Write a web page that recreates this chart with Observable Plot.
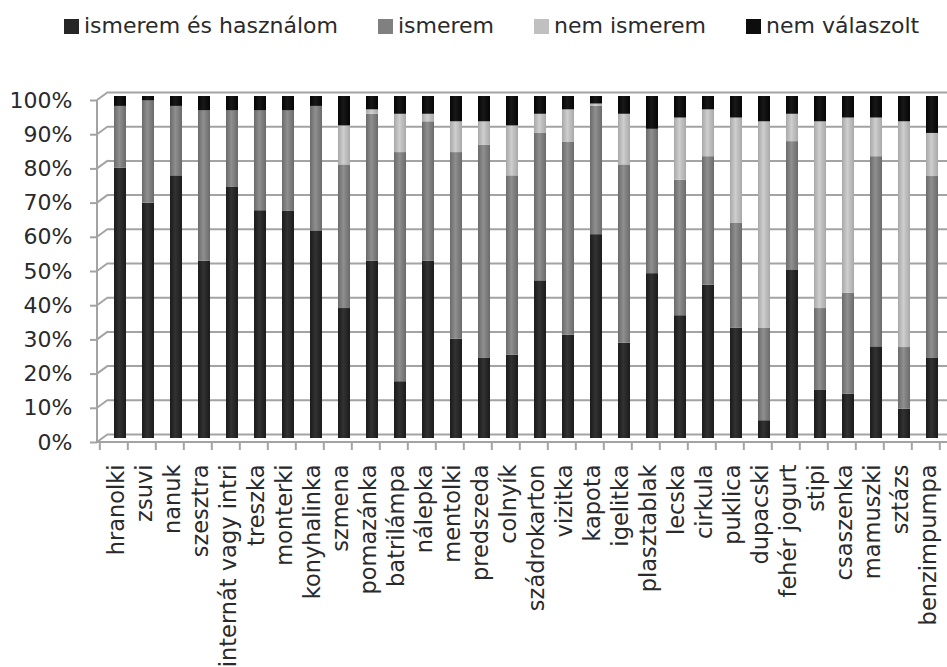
<!DOCTYPE html>
<html>
<head>
<meta charset="utf-8">
<script src="https://cdn.jsdelivr.net/npm/d3@7"></script>
<script src="https://cdn.jsdelivr.net/npm/@observablehq/plot@0.6"></script>
<style>
  body { margin: 0; background: #fff; font-family: "DejaVu Sans", sans-serif; color: #2a2a2a; }
  #wrap { position: relative; width: 947px; height: 667px; overflow: hidden; background: #fff; }
  #legend { position: absolute; left: 64px; top: 13px; display: flex; gap: 40px; font-size: 22px; line-height: 26px; white-space: nowrap; }
  .item { display: flex; align-items: center; }
  .sw { width: 15px; height: 15px; margin-right: 5px; }
  #chart { position: absolute; left: 0; top: 50px; }
</style>
</head>
<body>
<div id="wrap"><div id="legend"></div><div id="chart"></div></div>
<script>
const categories = ["hranolki","zsuvi","nanuk","szesztra","internát vagy intri","treszka","monterki","konyhalinka","szmena","pomazánka","batrilámpa","nálepka","mentolki","predszeda","colnyík","szádrokarton","vizitka","kapota","igelitka","plasztablak","lecska","cirkula","puklica","dupacski","fehér jogurt","stipi","csaszenka","mamuszki","sztázs","benzimpumpa"];
const seriesNames = ["ismerem és használom","ismerem","nem ismerem","nem válaszolt"];
const seriesColors = ["#262626","#808080","#c0c0c0","#0d0d0d"];
const ismeremEsHasznalom = [79.0,68.8,76.8,51.8,73.4,66.6,66.4,60.7,38.0,51.8,16.6,51.8,29.0,23.4,24.4,46.1,30.2,59.6,27.9,48.2,35.9,44.8,32.3,5.2,49.3,14.2,13.0,26.8,8.6,23.4];
const ismerem = [18.1,29.9,20.3,44.0,22.4,29.2,29.4,36.4,42.0,43.0,67.0,40.8,54.6,62.4,52.4,43.1,56.5,37.5,52.1,42.2,39.6,37.6,30.7,27.1,37.5,23.8,29.5,55.6,18.0,53.2];
const nemIsmerem = [0,0,0,0,0,0,0,0,11.4,1.3,11.2,2.2,9.0,6.8,14.6,5.6,9.4,0.7,14.8,0,18.2,13.7,30.7,60.3,8.0,54.6,51.2,11.3,66.0,12.6];
const nemValaszolt = [2.9,1.3,2.9,4.2,4.2,4.2,4.2,2.9,8.6,3.9,5.2,5.2,7.4,7.4,8.6,5.2,3.9,2.2,5.2,9.6,6.3,3.9,6.3,7.4,5.2,7.4,6.3,6.3,7.4,10.8];
const yTicks = [0,10,20,30,40,50,60,70,80,90,100];
const yTickLabels = ["0%","10%","20%","30%","40%","50%","60%","70%","80%","90%","100%"];

const seriesValues = [ismeremEsHasznalom, ismerem, nemIsmerem, nemValaszolt];
const rows = [];
categories.forEach((c, i) => {
  seriesNames.forEach((s, j) => rows.push({category: c, series: s, value: seriesValues[j][i]}));
});

// legend
const legend = document.getElementById("legend");
seriesNames.forEach((s, i) => {
  const it = document.createElement("div");
  it.className = "item";
  it.innerHTML = `<span class="sw" style="background:${seriesColors[i]}"></span><span>${s}</span>`;
  legend.appendChild(it);
});

const gridColor = "#a3a3a3";
const frontDy = 4, backDy = -4, backDx = 11;
const padInner = 0.585;

function frame(index, scales, values, dims) {
  const {x, y} = scales;
  const g = d3.create("svg:g").attr("fill", "none").attr("stroke", gridColor).attr("stroke-width", 2);
  const step = x(categories[1]) - x(categories[0]);
  const bw = step * (1 - padInner);
  const left = dims.marginLeft;
  const right = dims.width;
  const y0 = y(0) + frontDy;
  g.append("line").attr("x1", left).attr("x2", left).attr("y1", y(100) + frontDy).attr("y2", y0);
  g.append("line").attr("x1", left).attr("x2", right).attr("y1", y0).attr("y2", y0);
  for (const v of yTicks) {
    g.append("line").attr("x1", left).attr("y1", y(v) + frontDy).attr("x2", left + backDx).attr("y2", y(v) + backDy);
  }
  const xs = categories.map(c => x(c) + bw / 2 - step / 2);
  xs.push(x(categories[categories.length - 1]) + bw / 2 + step / 2);
  for (const xv of xs) {
    g.append("line").attr("x1", xv).attr("x2", xv).attr("y1", y0).attr("y2", y0 + 8);
  }
  return g.node();
}

const plot = Plot.plot({
  width: 947,
  height: 617,
  marginLeft: 97,
  marginRight: 5,
  marginTop: 46,
  marginBottom: 229,
  style: {fontFamily: "DejaVu Sans", fontSize: "22px", color: "#2a2a2a", background: "transparent"},
  x: {domain: categories, paddingInner: padInner, paddingOuter: padInner / 2, axis: null},
  y: {domain: [0, 100], axis: null},
  color: {domain: seriesNames, range: seriesNames.map((d, i) => `url(#cyl${i})`)},
  marks: [
    Plot.ruleY(yTicks, {y: d => d, dy: backDy, insetLeft: backDx, insetRight: -5, stroke: gridColor, strokeWidth: 2}),
    frame,
    Plot.barY(rows, Plot.stackY({x: "category", y: "value", fill: "series", dx: 6})),
    Plot.axisY(yTicks, {tickFormat: d => yTickLabels[yTicks.indexOf(d)], tickSize: 7, tickPadding: 18, dy: frontDy, stroke: gridColor, strokeWidth: 2, fontSize: 22, fill: "#2a2a2a", label: null}),
    Plot.axisX({tickSize: 0, tickPadding: 26, tickRotate: -90, dx: 2, fontSize: 22.5, fill: "#2a2a2a", label: null})
  ]
});

// cylinder gradients
const defs = d3.select(plot).insert("defs", ":first-child");
const shades = [
  ["#1b1b1b", "#323232", "#1b1b1b"],
  ["#6a6a6a", "#8f8f8f", "#6a6a6a"],
  ["#a8a8a8", "#cecece", "#a8a8a8"],
  ["#050505", "#181818", "#050505"]
];
shades.forEach((s, i) => {
  const lg = defs.append("linearGradient").attr("id", `cyl${i}`).attr("x1", 0).attr("x2", 1).attr("y1", 0).attr("y2", 0);
  lg.append("stop").attr("offset", "0%").attr("stop-color", s[0]);
  lg.append("stop").attr("offset", "45%").attr("stop-color", s[1]);
  lg.append("stop").attr("offset", "100%").attr("stop-color", s[2]);
});

document.getElementById("chart").appendChild(plot);
</script>
</body>
</html>
